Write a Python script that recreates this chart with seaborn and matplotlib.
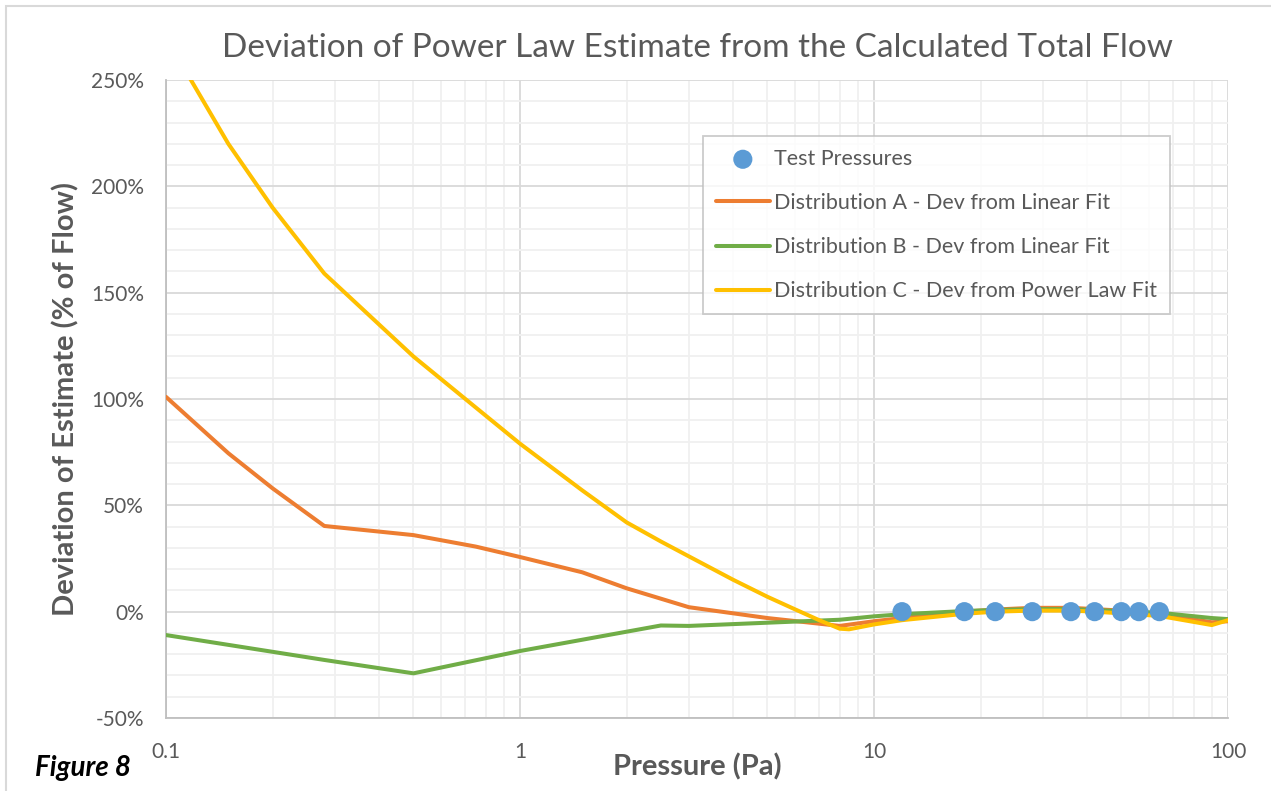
import pandas as pd
import seaborn as sns
import matplotlib.pyplot as plt
from matplotlib.ticker import FuncFormatter, MultipleLocator, LogLocator, FixedLocator
from matplotlib.patches import Rectangle

# test pressures (Pa), all sit at 0 % deviation
test_p = [12, 18, 22, 28, 36, 42, 50, 56, 64]
test_dev = [0, 0, 0, 0, 0, 0, 0, 0, 0]

# Distribution A - deviation from linear fit (%)
a_p = [0.1, 0.15, 0.2, 0.28, 0.5, 0.75, 1, 1.5, 2, 3, 5, 8, 10, 12, 18, 22, 28, 36, 42, 50, 64, 90, 100]
a_dev = [101, 74.5, 58, 40.3, 36, 30.6, 25.7, 18.5, 11, 2.1, -3, -6.7, -4.5, -3, 0, 1, 1.8, 1.8, 1.2, 0.5, -1, -5, -4.5]

# Distribution B - deviation from linear fit (%)
b_p = [0.1, 0.28, 0.5, 1, 2.5, 3, 8, 10, 12, 18, 22, 28, 36, 42, 50, 64, 90, 100]
b_dev = [-11, -22.7, -29, -18.5, -6.5, -6.7, -3.8, -2.2, -1.2, 0.3, 0.8, 1.2, 1.2, 0.8, 0.2, -0.5, -3, -3.5]

# Distribution C - deviation from power law fit (%)
c_p = [0.1, 0.15, 0.2, 0.28, 0.5, 0.75, 1, 1.5, 2, 2.5, 3, 4, 5, 6, 7, 8, 8.5, 10, 12, 18, 22, 28, 36, 42, 50, 64, 90, 100]
c_dev = [270, 220, 190, 159, 120, 96, 79, 57, 42, 33, 26, 15, 7, 1, -4, -8, -8.3, -6, -4, -1, 0, 0.5, 0.5, 0, -0.8, -2, -6.3, -4]

x_ticks = [0.1, 1, 10, 100]

sns.set_style("white")
plt.rcParams['font.family'] = ['Lato', 'DejaVu Sans']
gray = '#595959'

fig = plt.figure(figsize=(12.71, 7.91), dpi=100)
ax = fig.add_axes([166 / 1271, 1 - 718 / 791, 1062 / 1271, 638 / 791])
ax.set_xscale('log')

tests = pd.DataFrame({'p': test_p, 'dev': test_dev})
sns.scatterplot(x='p', y='dev', data=tests, ax=ax, color='#5B9BD5', s=190,
                edgecolor='none', label='Test Pressures', zorder=5)
sns.lineplot(x=a_p, y=a_dev, ax=ax, color='#ED7D31', linewidth=2.9,
             label='Distribution A - Dev from Linear Fit', zorder=3)
sns.lineplot(x=b_p, y=b_dev, ax=ax, color='#70AD47', linewidth=2.9,
             label='Distribution B - Dev from Linear Fit', zorder=3)
sns.lineplot(x=c_p, y=c_dev, ax=ax, color='#FFC000', linewidth=2.9,
             label='Distribution C - Dev from Power Law Fit', zorder=3)

ax.set_xlim(0.1, 100)
ax.set_ylim(-50, 250)
ax.xaxis.set_major_locator(FixedLocator(x_ticks))
ax.xaxis.set_minor_locator(LogLocator(base=10, subs=range(2, 10)))
ax.xaxis.set_major_formatter(FuncFormatter(lambda v, _: f'{v:g}'))
ax.yaxis.set_major_locator(MultipleLocator(50))
ax.yaxis.set_minor_locator(MultipleLocator(10))
ax.yaxis.set_major_formatter(FuncFormatter(lambda v, _: f'{v:.0f}%'))

ax.grid(which='major', color='#d9d9d9', linewidth=1.3, zorder=0)
ax.grid(which='minor', color='#f0f0f0', linewidth=1.3, zorder=0)
ax.set_axisbelow(True)
for side in ['top', 'right']:
    ax.spines[side].set_visible(False)
for side in ['left', 'bottom']:
    ax.spines[side].set_color('#bfbfbf')
    ax.spines[side].set_linewidth(1.3)

ax.tick_params(axis='both', which='both', length=0, labelsize=15, labelcolor=gray)
ax.tick_params(axis='x', pad=17)
ax.tick_params(axis='y', pad=16)

ax.set_xlabel('Pressure (Pa)', fontsize=21, fontweight='bold', color=gray, labelpad=-6)
ax.set_ylabel('Deviation of Estimate (% of Flow)', fontsize=21, fontweight='bold', color=gray, labelpad=8)
fig.text(698 / 1271, 1 - 48 / 791, 'Deviation of Power Law Estimate from the Calculated Total Flow',
         ha='center', va='center', fontsize=24, color=gray)
fig.text(35 / 1271, 1 - 768 / 791, 'Figure 8', ha='left', va='center', fontsize=20,
         fontweight='bold', style='italic', color='black')

leg = ax.legend(loc='upper left', bbox_to_anchor=((703 - 166) / 1062, (718 - 136) / 638),
                borderaxespad=0, fontsize=15.5, frameon=True, fancybox=False, labelspacing=1.12,
                handlelength=2.5, handletextpad=0.2, borderpad=0.6)
leg.get_frame().set_edgecolor('#bfbfbf')
leg.get_frame().set_linewidth(1.3)
for t in leg.get_texts():
    t.set_color(gray)

fig.patches.append(Rectangle((6 / 1271, -0.1), 1.2, 1 - 6 / 791 + 0.1, transform=fig.transFigure,
                             fill=False, edgecolor='#d9d9d9', linewidth=1.5))

fig.savefig('out.png', dpi=100)
